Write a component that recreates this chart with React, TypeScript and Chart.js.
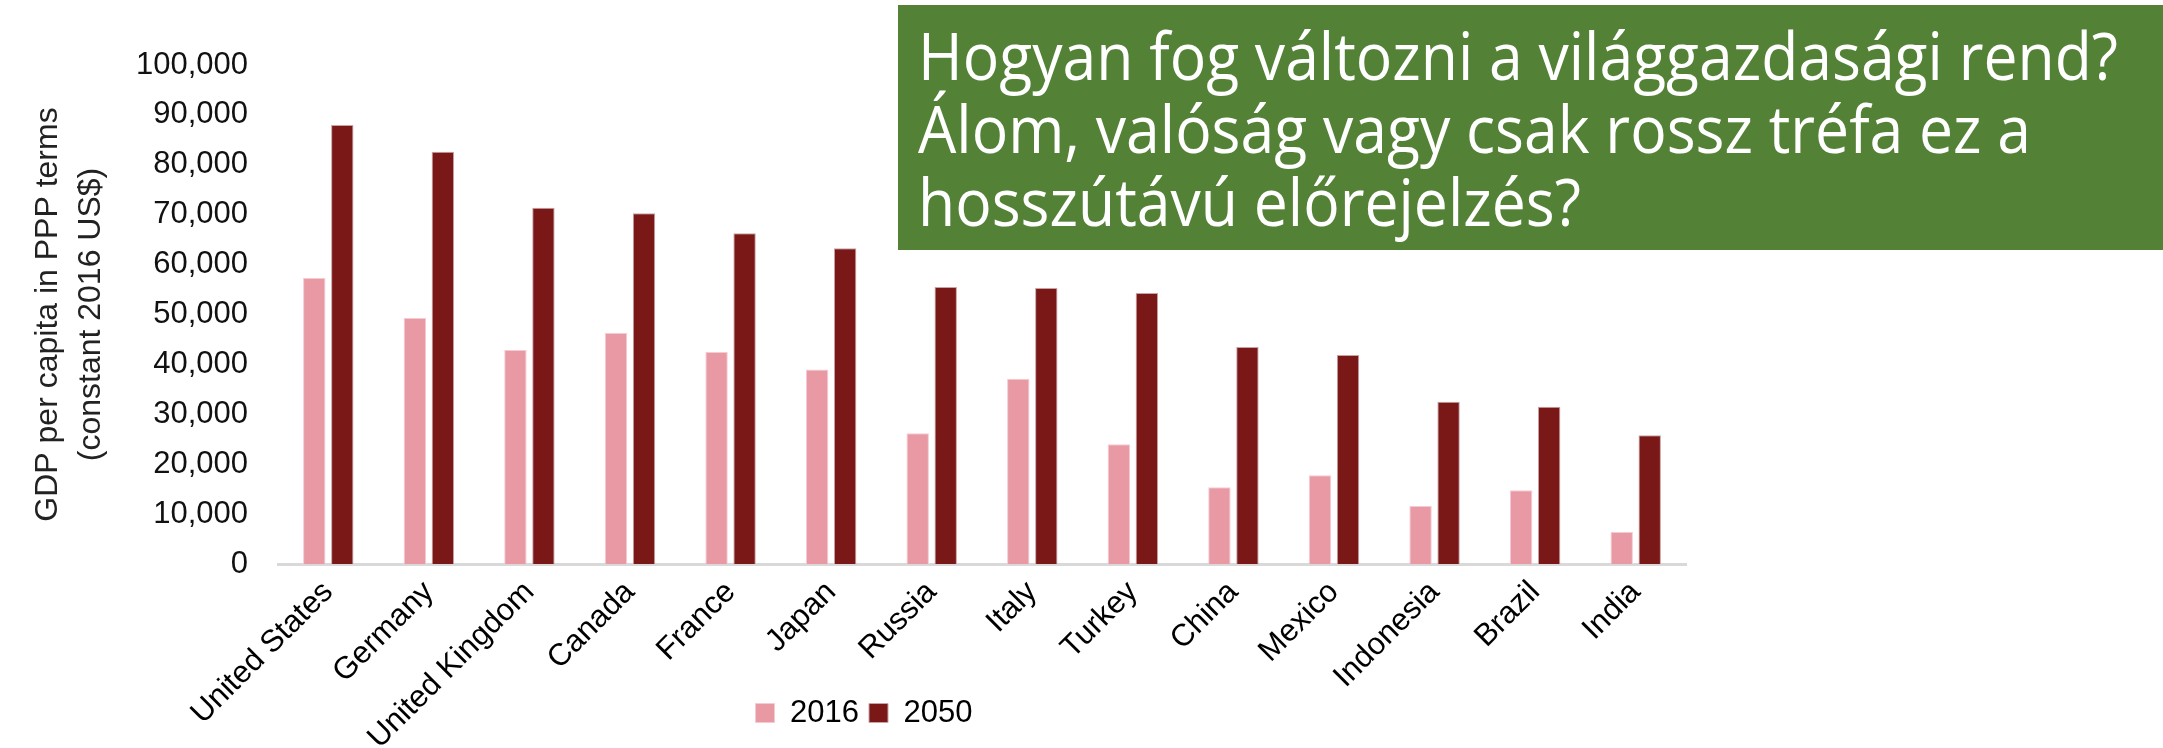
import React, { useEffect, useLayoutEffect, useRef } from "react";
import { Chart, registerables } from "chart.js";

Chart.register(...registerables);

const countries = [
  "United States",
  "Germany",
  "United Kingdom",
  "Canada",
  "France",
  "Japan",
  "Russia",
  "Italy",
  "Turkey",
  "China",
  "Mexico",
  "Indonesia",
  "Brazil",
  "India",
];
const gdp2016 = [57300, 49300, 42900, 46300, 42500, 39000, 26200, 37100, 24000, 15400, 17800, 11600, 14800, 6400];
const gdp2050 = [88000, 82600, 71400, 70300, 66300, 63300, 55500, 55300, 54300, 43500, 41900, 32500, 31500, 25800];
const seriesNames = ["2016", "2050"];
const yMin = 0;
const yMax = 100000;
const yStep = 10000;
const yAxisTitle = ["GDP per capita in PPP terms", "(constant 2016 US$)"];
const headlineLines = [
  "Hogyan fog változni a világgazdasági rend?",
  "Álom, valóság vagy csak rossz tréfa ez a",
  "hosszútávú előrejelzés?",
];

const W = 2163;
const H = 748;
const FONT = "'Liberation Sans', Arial, Helvetica, sans-serif";
const LEGEND_H = 51;
const PLOT_TOP = 65;
const PLOT_BOTTOM = 564;
const PLOT_LEFT = 278;
const PLOT_RIGHT = 1686;

// The legend is laid out at the top (so it takes no room from the x labels)
// and is then drawn below the axis, where the reference has it.
const legendMover = {
  id: "legendMover",
  beforeDraw(chart: any) {
    const L = chart.legend;
    if (!L) return;
    const w = L.width;
    const h = L.height;
    const cx = 864;
    const cy = 713;
    L.left = cx - w / 2;
    L.right = cx + w / 2;
    L.top = cy - h / 2;
    L.bottom = cy + h / 2;
  },
};

export default function App() {
  const canvasRef = useRef<HTMLCanvasElement | null>(null);
  const titleRef = useRef<HTMLDivElement | null>(null);

  useLayoutEffect(() => {
    const el = titleRef.current;
    if (!el) return;
    const first = el.firstElementChild as HTMLElement | null;
    if (!first) return;
    const span = first.firstElementChild as HTMLElement | null;
    const w = span ? span.getBoundingClientRect().width : first.scrollWidth;
    if (w > 0) {
      const s = 1200 / w;
      el.style.transform = `scaleX(${s})`;
    }
  }, []);

  useEffect(() => {
    const canvas = canvasRef.current;
    if (!canvas) return;
    Chart.defaults.font.family = FONT;
    const chart = new Chart(canvas, {
      type: "bar",
      data: {
        labels: countries,
        datasets: [
          {
            label: seriesNames[0],
            data: gdp2016,
            backgroundColor: "#E899A4",
            borderColor: "#F4CBD1",
            borderWidth: 1,
            categoryPercentage: 0.557,
            barPercentage: 0.8,
          },
          {
            label: seriesNames[1],
            data: gdp2050,
            backgroundColor: "#7A1818",
            borderColor: "#C8A2A4",
            borderWidth: 1,
            categoryPercentage: 0.557,
            barPercentage: 0.8,
          },
        ],
      },
      options: {
        responsive: false,
        animation: false,
        devicePixelRatio: 1,
        layout: { padding: { left: 0, right: W - PLOT_RIGHT, top: PLOT_TOP - LEGEND_H, bottom: 0 } },
        plugins: {
          title: { display: false },
          tooltip: { enabled: false },
          legend: {
            display: true,
            position: "top",
            align: "center",
            labels: {
              boxWidth: 19,
              boxHeight: 19,
              padding: 10,
              color: "#000",
              font: { family: FONT, size: 31 },
            },
          },
        },
        scales: {
          x: {
            type: "category",
            grid: { display: false, drawTicks: false },
            border: { display: true, color: "#D9D9D9", width: 3 },
            ticks: {
              autoSkip: false,
              maxRotation: 45,
              minRotation: 45,
              padding: 10,
              color: "#000",
              font: { family: FONT, size: 31 },
            },
            afterFit: (s: any) => {
              s.height = H - PLOT_BOTTOM;
            },
          },
          y: {
            min: yMin,
            max: yMax,
            grid: { display: false, drawTicks: false },
            border: { display: false },
            ticks: {
              stepSize: yStep,
              padding: 30,
              color: "#111",
              font: { family: FONT, size: 31 },
              callback: (v: any) => Number(v).toLocaleString("en-US"),
            },
            title: {
              display: true,
              text: yAxisTitle,
              color: "#222",
              font: { family: FONT, size: 32, lineHeight: 1.34 },
              padding: { top: 27, bottom: 0 },
            },
            afterFit: (s: any) => {
              s.width = PLOT_LEFT;
            },
          },
        },
      },
      plugins: [legendMover],
    });
    return () => chart.destroy();
  }, []);

  return (
    <div style={{ position: "fixed", left: 0, top: 0, width: W, height: H, background: "#fff", overflow: "hidden" }}>
      <canvas ref={canvasRef} width={W} height={H} style={{ display: "block", width: W, height: H }} />
      <div
        style={{
          position: "absolute",
          left: 898,
          top: 5,
          width: W - 898,
          height: 245,
          background: "#538135",
          overflow: "hidden",
        }}
      >
        <div
          ref={titleRef}
          style={{
            position: "absolute",
            left: 20,
            top: 13,
            color: "#fff",
            fontFamily: "'Open Sans', 'Noto Sans', sans-serif",
            fontSize: 66,
            lineHeight: "73px",
            whiteSpace: "nowrap",
            transformOrigin: "0 0",
          }}
        >
          {headlineLines.map((l) => (
            <div key={l}>
              <span>{l}</span>
            </div>
          ))}
        </div>
      </div>
    </div>
  );
}
